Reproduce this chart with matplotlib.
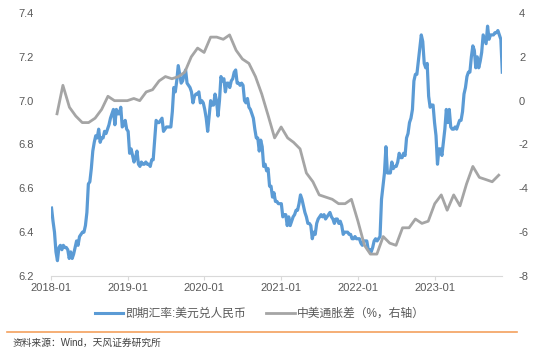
import matplotlib.pyplot as plt
import matplotlib.dates as mdates
from matplotlib.lines import Line2D
import pandas as pd

plt.rcParams['font.family'] = ['Liberation Sans', 'Noto Sans CJK SC', 'DejaVu Sans']
plt.rcParams['axes.unicode_minus'] = False

# 即期汇率: 美元兑人民币 (weekly, Friday)
fx_2018 = [6.51, 6.45, 6.40, 6.31,
           6.27, 6.33, 6.34, 6.32,
           6.34, 6.33, 6.33, 6.32, 6.28,
           6.31, 6.28, 6.30, 6.33,
           6.36, 6.34, 6.38, 6.39,
           6.40, 6.40, 6.43, 6.49, 6.62,
           6.63, 6.69, 6.77, 6.81,
           6.84, 6.83, 6.87, 6.81, 6.83,
           6.83, 6.86, 6.85, 6.87,
           6.89, 6.92, 6.94, 6.96,
           6.89, 6.96, 6.94, 6.94, 6.97,
           6.88, 6.89, 6.91, 6.87]
fx_2019 = [6.86, 6.76, 6.78, 6.75,
           6.72, 6.74, 6.77, 6.71,
           6.70, 6.72, 6.71, 6.71, 6.72,
           6.71, 6.71, 6.70, 6.73,
           6.73, 6.82, 6.91, 6.90, 6.90,
           6.91, 6.92, 6.86, 6.87,
           6.88, 6.88, 6.88, 6.88,
           6.95, 7.06, 7.04, 7.09, 7.16,
           7.12, 7.08, 7.09, 7.12,
           7.14, 7.08, 7.07, 7.06,
           7.04, 6.99, 7.02, 7.03, 7.03,
           7.04, 6.99, 7.00, 6.99]
fx_2020 = [6.96, 6.92, 6.86, 6.93, 7.00,
           6.98, 6.98, 7.03, 7.00,
           6.93, 7.00, 7.11, 7.09,
           7.10, 7.04, 7.08, 7.08,
           7.06, 7.09, 7.10, 7.13, 7.14,
           7.08, 7.08, 7.07, 7.08,
           7.07, 7.00, 6.99, 7.01, 6.97,
           6.96, 6.94, 6.92, 6.87,
           6.83, 6.83, 6.77, 6.82,
           6.79, 6.70, 6.71, 6.68, 6.69,
           6.61, 6.61, 6.56, 6.58,
           6.54, 6.54, 6.53, 6.53]
fx_2021 = [6.53, 6.47, 6.48, 6.48, 6.43,
           6.47, 6.43, 6.45, 6.47,
           6.48, 6.50, 6.50, 6.53,
           6.57, 6.55, 6.52, 6.49, 6.47,
           6.44, 6.44, 6.43, 6.37,
           6.40, 6.39, 6.44, 6.46,
           6.47, 6.48, 6.47, 6.48, 6.46,
           6.47, 6.48, 6.49, 6.47,
           6.46, 6.44, 6.46, 6.46,
           6.44, 6.45, 6.43, 6.39, 6.40,
           6.40, 6.40, 6.39, 6.39,
           6.37, 6.37, 6.38, 6.37, 6.37]
fx_2022 = [6.37, 6.35, 6.34, 6.36,
           6.36, 6.36, 6.32, 6.32,
           6.31, 6.33, 6.36, 6.37,
           6.36, 6.37, 6.38, 6.55, 6.61,
           6.67, 6.79, 6.67, 6.67,
           6.67, 6.72, 6.69, 6.70,
           6.70, 6.72, 6.76, 6.74, 6.74,
           6.76, 6.75, 6.83, 6.85,
           6.90, 6.92, 6.96, 7.09, 7.12,
           7.12, 7.18, 7.24, 7.30,
           7.27, 7.17, 7.15, 7.17,
           7.02, 6.97, 6.98, 6.98, 6.90]
fx_2023 = [6.84, 6.71, 6.78, 6.78,
           6.75, 6.81, 6.87, 6.96,
           6.90, 6.96, 6.88, 6.87, 6.87,
           6.88, 6.87, 6.89, 6.91,
           6.91, 6.95, 7.03, 7.06,
           7.11, 7.13, 7.13, 7.20, 7.25,
           7.23, 7.15, 7.20, 7.15,
           7.18, 7.22, 7.30, 7.28,
           7.26, 7.34, 7.28, 7.30, 7.30,
           7.30, 7.31, 7.31, 7.32,
           7.30, 7.28, 7.13]

# 中美通胀差 (%, monthly, month end)
infl_diff = [-0.6, 0.7, -0.3, -0.7, -1.0, -1.0, -0.8, -0.4, 0.2, 0.0, 0.0, 0.0,
             0.1, 0.0, 0.4, 0.5, 0.9, 1.1, 1.0, 1.1, 1.3, 2.0, 2.4, 2.2,
             2.9, 2.9, 2.8, 3.0, 2.3, 1.9, 1.7, 1.1, 0.3, -0.7, -1.7, -1.2,
             -1.7, -1.9, -2.2, -3.3, -3.7, -4.3, -4.4, -4.5, -4.7, -4.7, -4.5, -5.5,
             -6.6, -7.0, -7.0, -6.2, -6.5, -6.6, -5.8, -5.8, -5.4, -5.6, -5.5, -4.7,
             -4.3, -5.0, -4.3, -4.8, -3.8, -3.0, -3.5, -3.6, -3.7, -3.4]

fx = fx_2018 + fx_2019 + fx_2020 + fx_2021 + fx_2022 + fx_2023
fx_dates = pd.date_range('2018-01-05', '2023-11-17', freq='W-FRI')
infl_dates = pd.date_range('2018-01-31', periods=len(infl_diff), freq='ME')
assert len(fx) == len(fx_dates)

blue = '#5B9BD5'
gray = '#A5A5A5'
txt = '#595959'

fig = plt.figure(figsize=(5.5, 3.52), dpi=100)
ax = fig.add_axes([50.7 / 550, 1 - 276 / 352, (502.3 - 50.7) / 550, (276 - 13) / 352])
ax2 = ax.twinx()

ax.plot(fx_dates, fx, color=blue, lw=2.3, solid_joinstyle='round')
ax2.plot(infl_dates, infl_diff, color=gray, lw=2.0, solid_joinstyle='round')

ax.set_ylim(6.2, 7.4)
ax.set_yticks([6.2, 6.4, 6.6, 6.8, 7.0, 7.2, 7.4])
ax.set_yticklabels(['6.2', '6.4', '6.6', '6.8', '7.0', '7.2', '7.4'])
ax2.set_ylim(-8, 4)
ax2.set_yticks([-8, -6, -4, -2, 0, 2, 4])
ax.set_xlim(pd.Timestamp('2018-01-01'), pd.Timestamp('2023-11-17'))

ax.xaxis.set_major_locator(mdates.YearLocator())
ax.xaxis.set_major_formatter(mdates.DateFormatter('%Y-%m'))

for a in (ax, ax2):
    for s in ('top', 'left', 'right'):
        a.spines[s].set_visible(False)
    a.spines['bottom'].set_color('#D9D9D9')
    a.spines['bottom'].set_linewidth(0.8)
ax2.spines['bottom'].set_visible(False)

ax.tick_params(axis='x', length=3, width=0.8, color='#D9D9D9', labelsize=8, labelcolor=txt, pad=2)
ax.tick_params(axis='y', length=0, labelsize=8, labelcolor=txt, pad=12)
ax2.tick_params(axis='y', length=0, labelsize=8, labelcolor=txt, pad=12)

handles = [Line2D([], [], color=blue, lw=2.2), Line2D([], [], color=gray, lw=2.0)]
labels = ['即期汇率:美元兑人民币', '中美通胀差（%，右轴）']
fig.legend(handles, labels, loc='center', bbox_to_anchor=(260 / 550, 1 - 314 / 352),
           ncol=2, frameon=False, fontsize=8.5, labelcolor=txt,
           handlelength=2.4, handletextpad=0.2, columnspacing=1.7)

fig.add_artist(Line2D([7 / 550, 517 / 550], [1 - 332 / 352, 1 - 332 / 352],
                      color='#F4A15D', lw=1.2, transform=fig.transFigure))
fig.text(13 / 550, 1 - 343 / 352, '资料来源：Wind，天风证券研究所',
         fontsize=7, color='#404040', va='center', ha='left')

fig.savefig('out.png', dpi=100)
